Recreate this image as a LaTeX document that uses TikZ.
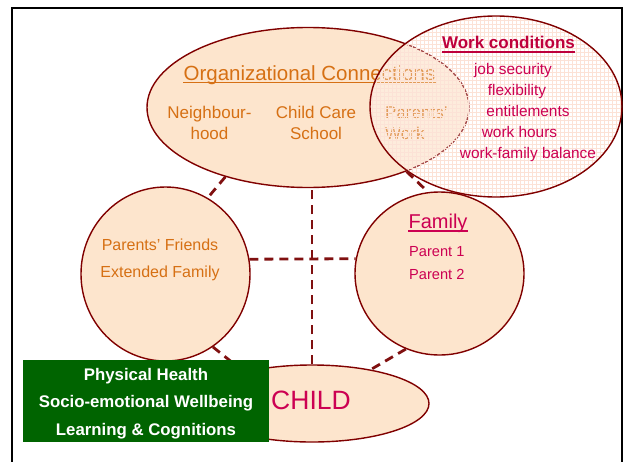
\documentclass[tikz,border=0pt]{standalone}
\usepackage{fontspec}
\setmainfont{Liberation Sans}
\usetikzlibrary{shapes.geometric}
\definecolor{peach}{RGB}{253,229,205}
\definecolor{edge}{RGB}{128,0,0}
\definecolor{dashc}{RGB}{128,16,16}
\definecolor{orgtxt}{RGB}{214,112,20}
\definecolor{crim}{RGB}{204,0,82}
\definecolor{crimdark}{RGB}{190,0,60}
\definecolor{gbox}{RGB}{0,100,0}
\definecolor{gridc}{RGB}{252,226,214}
\begin{document}
\begin{tikzpicture}[x=1pt,y=-1pt,
  blob/.style={ellipse, draw=edge, line width=1.4pt, fill=peach, inner sep=0pt},
  link/.style={draw=dashc, line width=2.8pt, dash pattern=on 9pt off 6pt},
  lbl/.style={inner sep=0pt, anchor=base},
  orgfont/.style={font=\fontsize{17}{20}\selectfont, text=orgtxt},
  workfont/.style={font=\fontsize{15.4}{18}\selectfont, text=crim},
  boxfont/.style={font=\fontsize{16.8}{19}\selectfont\bfseries, text=white}
]
\useasboundingbox (0,0) rectangle (626,461);
\draw[line width=2pt] (12,8) rectangle (622,480);

% main shapes
\node[blob, minimum width=322pt, minimum height=160pt] (org) at (308,107.5) {};
\node[blob, minimum width=169pt, minimum height=174pt] (fri) at (165.5,274) {};
\node[blob, minimum width=169pt, minimum height=163pt] (fam) at (439.5,273.5) {};
\node[blob, minimum width=234pt, minimum height=77pt] (child) at (312,403.5) {};

% organizational texts
\node[lbl, font=\fontsize{20.5}{24}\selectfont, text=orgtxt] (oct) at (309.5,80.5) {Organizational Connections};
\draw[orgtxt, line width=1.4pt] ([yshift=-2pt]oct.base west) -- ([yshift=-2pt]oct.base east);
\node[lbl, orgfont] (nb1) at (209.5,118) {Neighbour-};
\node[lbl, orgfont] (nb2) at (209.5,139) {hood};
\node[lbl, orgfont] (cc1) at (316,118) {Child Care};
\node[lbl, orgfont] (cc2) at (316,139) {School};
\node[lbl, orgfont, anchor=base west] (pw1) at (385,118) {Parents’};
\node[lbl, orgfont, anchor=base west] (pw2) at (385,139) {Work};

% work conditions ellipse (semi-transparent, gridded)
\coordinate (wc) at (496,106.5);
\fill[white, fill opacity=0.3] (wc) ellipse [x radius=126, y radius=90.5];
\begin{scope}
  \clip (wc) ellipse [x radius=126, y radius=90.5];
  \draw[gridc, line width=0.45pt] (368,14) grid[step=4pt] (624,200);
\end{scope}
\node[ellipse, draw=edge, line width=1.4pt, inner sep=0pt,
  minimum width=252pt, minimum height=181pt] (work) at (wc) {};
\node[lbl, font=\fontsize{17}{20}\selectfont\bfseries, text=crimdark] (wct) at (508.5,48.5) {Work conditions};
\draw[crimdark, line width=2pt] ([yshift=-3pt]wct.base west) -- ([yshift=-3pt]wct.base east);
\node[lbl, workfont] (w1) at (513,74) {job security};
\node[lbl, workfont] (w2) at (517,95) {flexibility};
\node[lbl, workfont] (w3) at (528,116) {entitlements};
\node[lbl, workfont] (w4) at (519.5,137) {work hours};
\node[lbl, workfont] (w5) at (528,158) {work-family balance};

% family
\node[lbl, font=\fontsize{20}{24}\selectfont, text=crim] (famt) at (438,228.5) {Family};
\draw[crim, line width=1.5pt] ([yshift=-2.3pt]famt.base west) -- ([yshift=-2.3pt]famt.base east);
\node[lbl, anchor=base west, font=\fontsize{14.6}{17}\selectfont, text=crim] (p1) at (409,256.7) {Parent 1};
\node[lbl, anchor=base west, font=\fontsize{14.6}{17}\selectfont, text=crim] (p2) at (409,279) {Parent 2};

% friends
\node[lbl, font=\fontsize{16}{19}\selectfont, text=orgtxt] (f1) at (160,250) {Parents’ Friends};
\node[lbl, font=\fontsize{16}{19}\selectfont, text=orgtxt] (f2) at (160,277.7) {Extended Family};

% child
\node[lbl, font=\fontsize{26.5}{30}\selectfont, text=crim] (ct) at (311,409.3) {CHILD};

% connectors
\draw[link] (org.-140) -- (fri.61);
\draw[link] (child.north) -- (child.north |- org.south);
\draw[link] (fri.10) -- (fam.170);
\draw[link] (org.-33) -- (fam.98);
\draw[link] (fri.-57) -- (child.155);
\draw[link] (fam.-114) -- (child.30);

% outcomes box
\node[fill=gbox, inner sep=0pt, minimum width=246pt, minimum height=82pt] (gb) at (146,401) {};
\node[lbl, boxfont] (g1) at (146,380) {Physical Health};
\node[lbl, boxfont] (g2) at (146,407.7) {Socio-emotional Wellbeing};
\node[lbl, boxfont] (g3) at (146,435) {Learning \& Cognitions};
\end{tikzpicture}
\end{document}
